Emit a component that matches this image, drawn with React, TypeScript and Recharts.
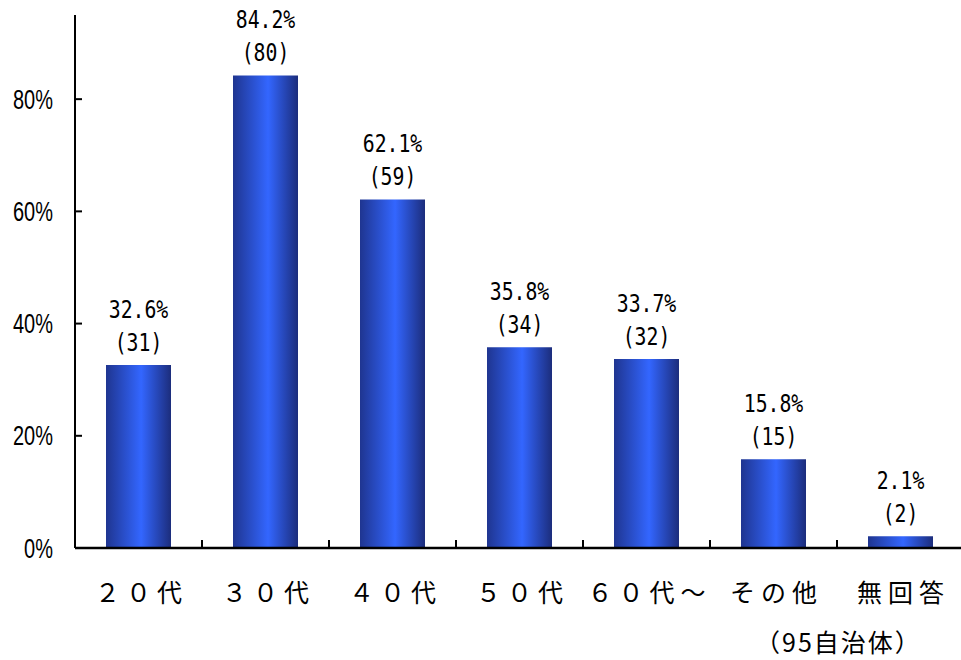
import React from 'react';
import { BarChart, Bar, XAxis, YAxis, LabelList } from 'recharts';

const categories = ['２０代', '３０代', '４０代', '５０代', '６０代～', 'その他', '無回答'];
const percents = [32.6, 84.2, 62.1, 35.8, 33.7, 15.8, 2.1];
const counts = [31, 80, 59, 34, 32, 15, 2];
const yTicks = [0, 20, 40, 60, 80];
const yDomain = [0, 95];
const note = '（95自治体）';

const data = categories.map((c, i) => ({ name: c, pct: percents[i], count: counts[i] }));

const labelFont = '"DejaVu Sans Mono", "Liberation Mono", monospace';
const cjkFont = '"Noto Sans CJK JP", "Noto Sans", sans-serif';
const yFont = '"Liberation Sans", Arial, sans-serif';

const YTick = (props: any) => {
  const { x, y, payload } = props;
  return (
    <g>
      <line x1={x} x2={x + 7} y1={y} y2={y} stroke="#000" strokeWidth={2} />
      <text
        transform={`translate(${x - 22},${y}) scale(0.74,1)`}
        x={0}
        y={0}
        textAnchor="end"
        dominantBaseline="central"
        fontSize={27}
        fontFamily={yFont}
        fill="#000"
      >
        {`${payload.value}%`}
      </text>
    </g>
  );
};

const XTick = (props: any) => {
  const { x, y, payload, width, visibleTicksCount } = props;
  const band = width / visibleTicksCount;
  const bx = x - band / 2;
  return (
    <g>
      <line x1={bx} x2={bx} y1={y - 8} y2={y} stroke="#000" strokeWidth={2} />
      <text x={x + 3} y={y + 43} textAnchor="middle" dominantBaseline="central" fontSize={25} letterSpacing={6} fontFamily={cjkFont} fill="#000">
        {payload.value}
      </text>
    </g>
  );
};

const BarLabel = (props: any) => {
  const { x, y, width, index } = props;
  const cx = x + width / 2;
  return (
    <g>
      <text
        transform={`translate(${cx},${y - 56}) scale(0.9,1.1)`}
        x={0}
        y={0}
        textAnchor="middle"
        dominantBaseline="central"
        fontSize={22}
        fontFamily={labelFont}
        fill="#000"
      >
        {`${percents[index].toFixed(1)}%`}
      </text>
      <text
        transform={`translate(${cx},${y - 23}) scale(0.9,1.1)`}
        x={0}
        y={0}
        textAnchor="middle"
        dominantBaseline="central"
        fontSize={22}
        fontFamily={labelFont}
        fill="#000"
      >
        {`(${counts[index]})`}
      </text>
    </g>
  );
};

export default function App() {
  return (
    <div style={{ position: 'absolute', left: 0, top: 0, width: 961, height: 660, background: '#fff' }}>
      <div style={{ position: 'absolute', left: 0, top: 0, width: 961, height: 660, overflow: 'hidden' }}>
        <BarChart
          width={964}
          height={660}
          data={data}
          margin={{ top: 15, right: 0, left: 0, bottom: 0 }}
          barCategoryGap={0}
        >
          <defs>
            <linearGradient id="barGrad" x1="0" y1="0" x2="1" y2="0">
              <stop offset="0%" stopColor="#1f3590" />
              <stop offset="54%" stopColor="#3366ff" />
              <stop offset="100%" stopColor="#1c2d7c" />
            </linearGradient>
          </defs>
          <YAxis
            width={75}
            domain={yDomain}
            ticks={yTicks}
            type="number"
            allowDataOverflow
            axisLine={{ stroke: '#000', strokeWidth: 2 }}
            tickLine={false}
            tickSize={0}
            tickMargin={0}
            tick={<YTick />}
          />
          <XAxis
            dataKey="name"
            height={112}
            axisLine={{ stroke: '#000', strokeWidth: 2.5 }}
            tickLine={false}
            tickSize={0}
            tickMargin={0}
            interval={0}
            tick={<XTick />}
          />
          <Bar dataKey="pct" fill="url(#barGrad)" barSize={65} isAnimationActive={false}>
            <LabelList dataKey="pct" content={<BarLabel />} />
          </Bar>
        </BarChart>
      </div>
      <div style={{ position: 'absolute', left: 755, top: 629, fontFamily: cjkFont, fontSize: 25, lineHeight: '24px', letterSpacing: '2px', color: '#000', whiteSpace: 'nowrap' }}>
        {note}
      </div>
    </div>
  );
}
